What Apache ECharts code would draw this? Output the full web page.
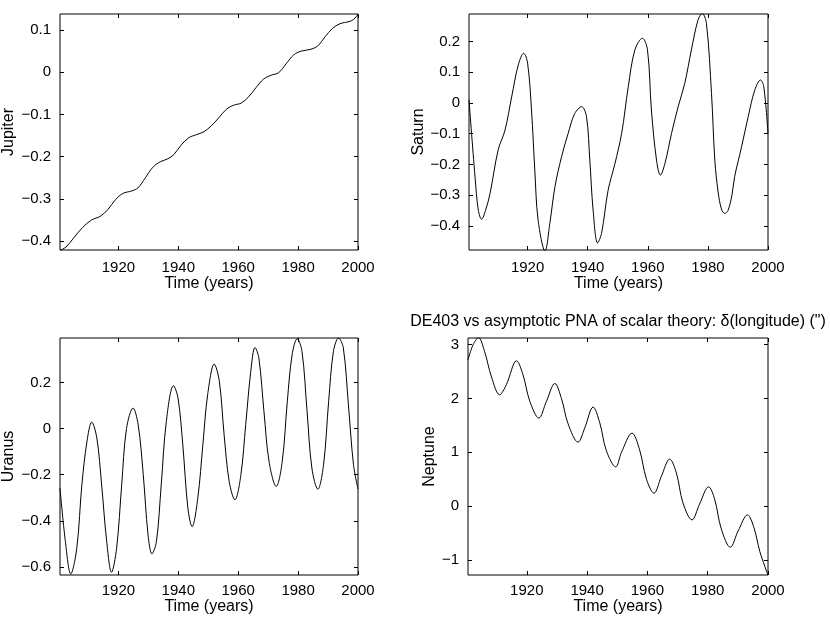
<!DOCTYPE html>
<html>
<head>
<meta charset="utf-8">
<script src="https://cdn.jsdelivr.net/npm/echarts@6/dist/echarts.min.js"></script>
<style>
  html, body { margin: 0; padding: 0; background: #fff; }
  #main { width: 830px; height: 617px; }
</style>
</head>
<body>
<div id="main"></div>
<script>
// (year, value) per planet
var jupiterYears = [1900.5, 1902.5, 1905, 1908, 1911, 1914, 1916.5, 1919, 1921.5, 1924.5, 1926.5, 1929, 1931.5, 1934, 1936.5, 1938.5, 1941, 1943.5, 1946, 1948.5, 1951, 1953.5, 1956, 1958.5, 1961, 1963.5, 1966, 1968.5, 1971, 1973.5, 1976, 1978.5, 1981, 1984, 1986.5, 1989, 1991.5, 1994, 1997, 1998.5, 2000];
var jupiterVals  = [-0.422, -0.414, -0.393, -0.368, -0.350, -0.341, -0.325, -0.302, -0.287, -0.281, -0.274, -0.25, -0.225, -0.212, -0.205, -0.195, -0.172, -0.155, -0.148, -0.141, -0.127, -0.108, -0.088, -0.078, -0.073, -0.058, -0.036, -0.016, -0.007, -0.001, 0.02, 0.041, 0.05, 0.054, 0.062, 0.084, 0.104, 0.115, 0.12, 0.125, 0.137];

var saturnYears = [1900.5, 1902.5, 1903.6, 1904.7, 1906, 1907.5, 1910.2, 1912.5, 1914.7, 1916.9, 1918.7, 1920.0, 1921.3, 1922.4, 1923.5, 1925.8, 1927.4, 1929.1, 1931.3, 1933.5, 1935.7, 1938, 1939.6, 1940.7, 1941.8, 1943.3, 1944.6, 1946.8, 1949, 1951.3, 1953.5, 1955.7, 1958.2, 1959.9, 1961.2, 1962.9, 1964.2, 1965.7, 1967.9, 1970.1, 1972.3, 1974.5, 1976.7, 1978.1, 1979.5, 1981.2, 1982.3, 1983.4, 1984.5, 1985.6, 1986.7, 1988, 1988.9, 1991.2, 1993.4, 1995.6, 1997.5, 1998.6, 2000];
var saturnVals  = [0.01, -0.24, -0.349, -0.379, -0.35, -0.295, -0.153, -0.088, 0.02, 0.124, 0.162, 0.13, -0.023, -0.219, -0.382, -0.482, -0.392, -0.273, -0.175, -0.099, -0.034, -0.012, -0.045, -0.186, -0.349, -0.456, -0.425, -0.284, -0.2, -0.099, 0.053, 0.173, 0.211, 0.173, -0.023, -0.186, -0.235, -0.197, -0.099, -0.012, 0.064, 0.173, 0.27, 0.292, 0.26, 0.031, -0.186, -0.29, -0.345, -0.36, -0.35, -0.3, -0.24, -0.143, -0.045, 0.042, 0.075, 0.053, -0.1];

var uranusYears = [1900.5, 1902.3, 1904.1, 1906.1, 1907.8, 1909.5, 1911.1, 1912.8, 1914.4, 1916.1, 1917.7, 1919.4, 1921.1, 1922.7, 1924.9, 1926.6, 1928.3, 1929.9, 1931.2, 1932.7, 1934.3, 1936, 1938.4, 1939.9, 1941.5, 1943.2, 1944.6, 1946.5, 1948.2, 1949.8, 1952, 1953.7, 1955.3, 1957, 1958.9, 1960.9, 1962.5, 1964.2, 1965.6, 1966.9, 1968.6, 1970.3, 1972.7, 1974.7, 1976.4, 1978, 1979.7, 1981.3, 1983, 1984.6, 1986.6, 1988.5, 1990.2, 1991.8, 1993.5, 1995.1, 1996.8, 1998.5, 2000];
var uranusVals  = [-0.258, -0.49, -0.63, -0.519, -0.244, -0.056, 0.028, -0.041, -0.244, -0.49, -0.623, -0.519, -0.244, 0.0, 0.089, 0.017, -0.2, -0.461, -0.543, -0.49, -0.244, 0.031, 0.186, 0.133, -0.07, -0.345, -0.425, -0.302, -0.07, 0.147, 0.28, 0.205, -0.027, -0.23, -0.309, -0.2, 0.017, 0.248, 0.352, 0.306, 0.074, -0.143, -0.251, -0.143, 0.118, 0.32, 0.39, 0.335, 0.074, -0.171, -0.263, -0.157, 0.118, 0.335, 0.393, 0.35, 0.103, -0.157, -0.262];

var neptuneYears = [1900.5, 1902.2, 1904, 1906, 1908.3, 1911, 1913.2, 1916.6, 1918.7, 1921, 1924, 1926.5, 1929.3, 1931.5, 1933.7, 1937, 1939.2, 1942, 1944.2, 1946.4, 1949.5, 1951.4, 1954.9, 1957.4, 1959.7, 1962.2, 1964.6, 1967.4, 1969.6, 1971.8, 1974.8, 1977.3, 1980.3, 1982.3, 1984.5, 1987.5, 1990.1, 1993.2, 1995.4, 1997.3, 2000];
var neptuneVals  = [2.72, 3.0, 3.13, 2.876, 2.4, 2.07, 2.256, 2.70, 2.45, 1.95, 1.637, 1.946, 2.28, 2.0, 1.53, 1.19, 1.45, 1.841, 1.55, 1.03, 0.73, 1.0, 1.357, 1.05, 0.5, 0.241, 0.55, 0.874, 0.62, 0.06, -0.255, 0.04, 0.359, 0.13, -0.42, -0.763, -0.46, -0.162, -0.41, -0.845, -1.28];

var yearTicks = [1920, 1940, 1960, 1980, 2000];
var jupiterTicks = [-0.4, -0.3, -0.2, -0.1, 0, 0.1];
var saturnTicks  = [-0.4, -0.3, -0.2, -0.1, 0, 0.1, 0.2];
var uranusTicks  = [-0.6, -0.4, -0.2, 0, 0.2];
var neptuneTicks = [-1, 0, 1, 2, 3];

var names  = ['Jupiter', 'Saturn', 'Uranus', 'Neptune'];
var yRange = [[-0.421, 0.138], [-0.479, 0.29], [-0.635, 0.393], [-1.279, 3.125]];
var yTicks = [jupiterTicks, saturnTicks, uranusTicks, neptuneTicks];
var years  = [jupiterYears, saturnYears, uranusYears, neptuneYears];
var vals   = [jupiterVals, saturnVals, uranusVals, neptuneVals];

var font = 'Liberation Sans, Arial, Helvetica, sans-serif';
var chart = echarts.init(document.getElementById('main'));

var grids = [
    { left: 58,  top: 14,  width: 300, height: 236 },
    { left: 469, top: 14,  width: 299, height: 236 },
    { left: 58,  top: 338, width: 300, height: 237 },
    { left: 468, top: 338, width: 300, height: 237 }
];
var labelGap = [10, 10, 8, 8];
var nameGapX = [24, 24, 19, 19];
var nameGapY = [43, 42, 43, 28];

// matlab style minus sign, no thousands comma on years
function fmt(v) {
    if (v === 0) return '0';
    return String(v).replace('-', '\u2212');
}
function fmtYear(v) {
    return String(v);
}

var xAxes = [], yAxes = [], series = [];
for (var i = 0; i < 4; i++) {
    grids[i].show = true;
    grids[i].borderColor = '#000';
    grids[i].borderWidth = 1;
    grids[i].containLabel = false;

    var tickX = { show: true, inside: true, length: 4, lineStyle: { color: '#000' }, customValues: yearTicks };
    var tickY = { show: true, inside: true, length: 4, lineStyle: { color: '#000' }, customValues: yTicks[i] };

    xAxes.push({
        type: 'value', gridIndex: i, position: 'bottom', min: 1900.5, max: 2000,
        axisLine: { show: false, onZero: false }, splitLine: { show: false }, axisTick: tickX,
        axisLabel: { customValues: yearTicks, margin: labelGap[i], color: '#000', fontSize: 15, fontFamily: font, formatter: fmtYear },
        name: 'Time (years)', nameLocation: 'middle', nameGap: nameGapX[i],
        nameTextStyle: { color: '#000', fontSize: 16, fontFamily: font }
    });
    xAxes.push({
        type: 'value', gridIndex: i, position: 'top', min: 1900.5, max: 2000,
        axisLine: { show: false, onZero: false }, splitLine: { show: false }, axisTick: tickX,
        axisLabel: { show: false }
    });
    yAxes.push({
        type: 'value', gridIndex: i, position: 'left', min: yRange[i][0], max: yRange[i][1],
        axisLine: { show: false, onZero: false }, splitLine: { show: false }, axisTick: tickY,
        axisLabel: { customValues: yTicks[i], margin: 9, color: '#000', fontSize: 15, fontFamily: font, formatter: fmt },
        name: names[i], nameLocation: 'middle', nameGap: nameGapY[i],
        nameTextStyle: { color: '#000', fontSize: 16, fontFamily: font }
    });
    yAxes.push({
        type: 'value', gridIndex: i, position: 'right', min: yRange[i][0], max: yRange[i][1],
        axisLine: { show: false, onZero: false }, splitLine: { show: false }, axisTick: tickY,
        axisLabel: { show: false }
    });

    var pts = [];
    for (var k = 0; k < years[i].length; k++) {
        pts.push([years[i][k], vals[i][k]]);
    }
    series.push({
        name: names[i], type: 'line', xAxisIndex: i * 2, yAxisIndex: i * 2,
        data: pts, showSymbol: false, smooth: 0.35, clip: true,
        lineStyle: { color: '#000', width: 1 }
    });
}

var option = {
    backgroundColor: '#fff',
    animation: false,
    title: {
        text: 'DE403 vs asymptotic PNA of scalar theory: \u03b4(longitude) (")',
        left: 618, top: 314, padding: 0, textAlign: 'center',
        textStyle: { color: '#000', fontSize: 16, fontWeight: 'normal', fontFamily: font }
    },
    grid: grids,
    xAxis: xAxes,
    yAxis: yAxes,
    series: series
};

chart.setOption(option);
</script>
</body>
</html>
